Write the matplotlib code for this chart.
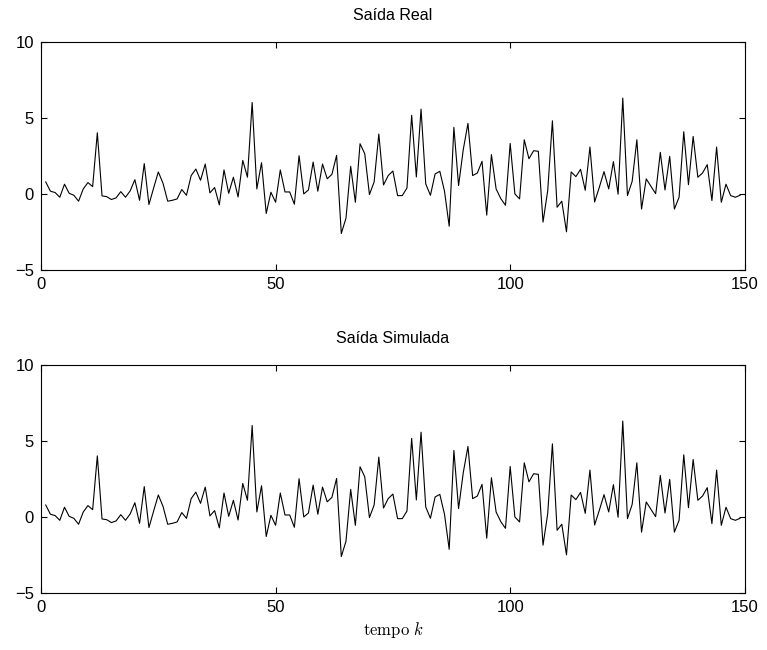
import numpy as np
import matplotlib.pyplot as plt

plt.rcParams["font.family"] = ["Liberation Sans", "DejaVu Sans"]
plt.rcParams["mathtext.fontset"] = "cm"

# ── 資料 ────────────────────────────────────
k = list(range(1, 150))

y_real = [
    0.79, 0.18, 0.09, -0.22, 0.64, 0.04, -0.09, -0.48, 0.33, 0.75,
    0.48, 4.03, -0.13, -0.18, -0.37, -0.26, 0.15, -0.22, 0.20, 0.94,
    -0.42, 2.00, -0.70, 0.39, 1.45, 0.70, -0.48, -0.42, -0.33, 0.29,
    -0.09, 1.21, 1.64, 0.90, 1.97, 0.07, 0.42, -0.72, 1.58, 0.04,
    1.10, -0.20, 2.21, 1.10, 6.03, 0.33, 2.06, -1.29, 0.11, -0.55,
    1.58, 0.13, 0.13, -0.68, 2.52, 0.00, 0.26, 2.10, 0.18, 1.97,
    1.00, 1.29, 2.54, -2.61, -1.60, 1.82, -0.55, 3.31, 2.65, -0.04,
    0.79, 3.95, 0.59, 1.21, 1.51, -0.11, -0.11, 0.39, 5.18, 1.12,
    5.59, 0.66, -0.09, 1.32, 1.49, 0.18, -2.13, 4.39, 0.55, 2.92,
    4.65, 1.21, 1.38, 2.15, -1.40, 2.59, 0.33, -0.31, -0.75, 3.33,
    0.00, -0.33, 3.57, 2.32, 2.85, 2.81, -1.86, 0.22, 4.82, -0.88,
    -0.48, -2.50, 1.45, 1.14, 1.62, 0.24, 3.09, -0.53, 0.44, 1.47,
    0.33, 2.13, -0.02, 6.32, -0.11, 0.83, 3.57, -1.00, 0.99, 0.50,
    0.02, 2.74, 0.26, 2.48, -1.00, -0.22, 4.10, 0.61, 3.79, 1.10,
    1.38, 1.93, -0.44, 3.09, -0.55, 0.64, -0.11, -0.22, -0.09,
]

# 模擬輸出在這個解析度下與實際輸出看不出差別
y_sim = list(y_real)

titles = ["Saída Real", "Saída Simulada"]
x_ticks = [0, 50, 100, 150]
y_ticks = [-5, 0, 5, 10]


def style_axis(ax, title):
    ax.set_xlim(0, 150)
    ax.set_ylim(-5, 10)
    ax.set_xticks(x_ticks)
    ax.set_yticks(y_ticks)
    ax.tick_params(direction="in", length=4, width=0.8, top=True, right=True,
                   labelsize=12, pad=5)
    for sp in ax.spines.values():
        sp.set_linewidth(0.8)
    ax.set_title(title, fontsize=11.5, pad=16)


fig = plt.figure(figsize=(7.67, 6.5), dpi=100)
ax1 = fig.add_axes([0.0535, 0.585, 0.9175, 0.35])
ax2 = fig.add_axes([0.0535, 0.088, 0.9175, 0.35])

ax1.plot(k, y_real, color="black", lw=0.8)
style_axis(ax1, titles[0])

ax2.plot(k, y_sim, color="black", lw=0.8)
style_axis(ax2, titles[1])
ax2.set_xlabel(r"$\mathrm{tempo}\ k$", fontsize=12, labelpad=4)

fig.savefig("out.png", dpi=100)
